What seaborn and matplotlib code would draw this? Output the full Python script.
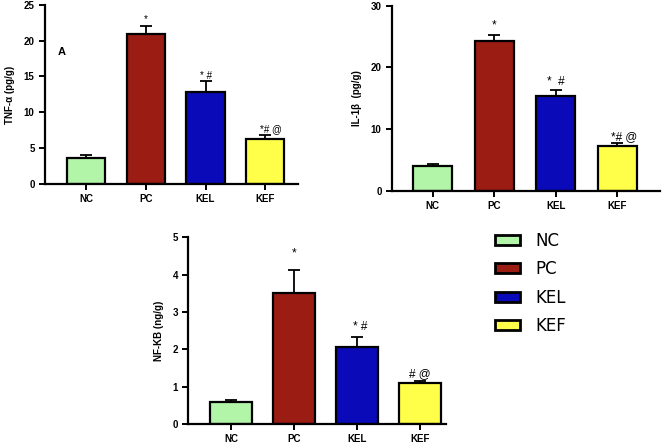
import matplotlib
matplotlib.use("Agg")
import matplotlib.pyplot as plt
import seaborn as sns
import pandas as pd
import numpy as np
from matplotlib.patches import Patch

sns.set_theme(style="ticks")
plt.rcParams['font.family'] = ['Liberation Sans', 'DejaVu Sans']
plt.rcParams['text.color'] = 'black'
plt.rcParams['axes.labelcolor'] = 'black'
plt.rcParams['xtick.color'] = 'black'
plt.rcParams['ytick.color'] = 'black'

groups = ["NC", "PC", "KEL", "KEF"]
colors = ["#b2f5a8", "#9a1c12", "#0a0ab8", "#ffff4a"]

tnf_mean = [3.6, 20.9, 12.8, 6.3]
tnf_err = [0.5, 1.2, 1.6, 0.6]
il1b_mean = [4.0, 24.2, 15.3, 7.3]
il1b_err = [0.35, 1.0, 1.1, 0.4]
nfkb_mean = [0.60, 3.50, 2.06, 1.10]
nfkb_err = [0.05, 0.62, 0.26, 0.05]

tnf_marks = ["", "*", "* #", "*# @"]
il1b_marks = ["", "*", "*  #", "*# @"]
nfkb_marks = ["", "*", "* #", "# @"]

W, H = 662, 445
fig = plt.figure(figsize=(W / 100, H / 100), dpi=100)


def ax_px(l, t, r, b):
    return fig.add_axes([l / W, 1 - b / H, (r - l) / W, (b - t) / H])


def panel(ax, means, errs, marks, ylim, yticks, ylabel, xlim, width, fs_mark, lab_off, mark_dx):
    df = pd.DataFrame({"group": groups, "val": means})
    sns.barplot(data=df, x="group", y="val", hue="group", palette=colors,
                order=groups, hue_order=groups, edgecolor="black", linewidth=1.6,
                width=width, errorbar=None, legend=False, ax=ax, zorder=2,
                saturation=1)
    x = np.arange(len(groups))
    ax.errorbar(x, means, yerr=[np.zeros(len(errs)), errs], fmt="none",
                ecolor="black", elinewidth=1.3, capsize=4, capthick=1.3, zorder=1)
    for i, (m, e, t) in enumerate(zip(means, errs, marks)):
        if t:
            ax.annotate(t, (i, m + e), xytext=(mark_dx[i], lab_off[i]),
                        textcoords="offset points", ha="center", va="bottom",
                        fontsize=fs_mark, color="black")
    ax.set_ylim(*ylim)
    ax.set_yticks(yticks)
    ax.set_xlim(*xlim)
    ax.set_xlabel("")
    ax.set_ylabel(ylabel, fontsize=7, fontweight="bold", labelpad=6, color="black")
    for s in ["top", "right"]:
        ax.spines[s].set_visible(False)
    for s in ["left", "bottom"]:
        ax.spines[s].set_linewidth(1.6)
        ax.spines[s].set_color("black")
    ax.tick_params(axis="both", width=1.4, length=4, direction="out", colors="black",
                   labelsize=7)
    for lab in ax.get_xticklabels() + ax.get_yticklabels():
        lab.set_fontweight("bold")
    ax.set_facecolor("white")


axA = ax_px(45, 4.75, 298, 184)
panel(axA, tnf_mean, tnf_err, tnf_marks, (0, 25), [0, 5, 10, 15, 20, 25],
      "TNF-α (pg/g)", (-0.69, 3.55), 0.64, 7, [0, 1, 0, 0], [0, 0, 0, 4])
fig.text(58 / W, 1 - 52 / H, "A", fontsize=8, fontweight="bold", color="black",
         va="center", ha="left")

axB = ax_px(392, 5.7, 660, 190.7)
panel(axB, il1b_mean, il1b_err, il1b_marks, (0, 30), [0, 10, 20, 30],
      "IL-1β  (pg/g)", (-0.66, 3.69), 0.63, 8.5, [0, 3, 1, 0], [0, 0, 0, 5])

axC = ax_px(188.3, 237.5, 446, 424)
panel(axC, nfkb_mean, nfkb_err, nfkb_marks, (0, 5), [0, 1, 2, 3, 4, 5],
      "NF-KB (ng/g)", (-0.68, 3.41), 0.67, 8.5, [0, 8, 3, 1], [0, 0, 2, 0])

handles = [Patch(facecolor=c, edgecolor="black", linewidth=2.0) for c in colors]
leg = fig.legend(handles, groups, loc="upper left", bbox_to_anchor=(495 / W, 1 - 232 / H),
                 frameon=False, borderpad=0, borderaxespad=0, handlelength=1.5,
                 handleheight=0.55, handletextpad=0.9, labelspacing=0.62,
                 prop={"family": "DejaVu Sans", "size": 12})
for t in leg.get_texts():
    t.set_color("black")

fig.savefig("out.png", dpi=100, facecolor="white")
